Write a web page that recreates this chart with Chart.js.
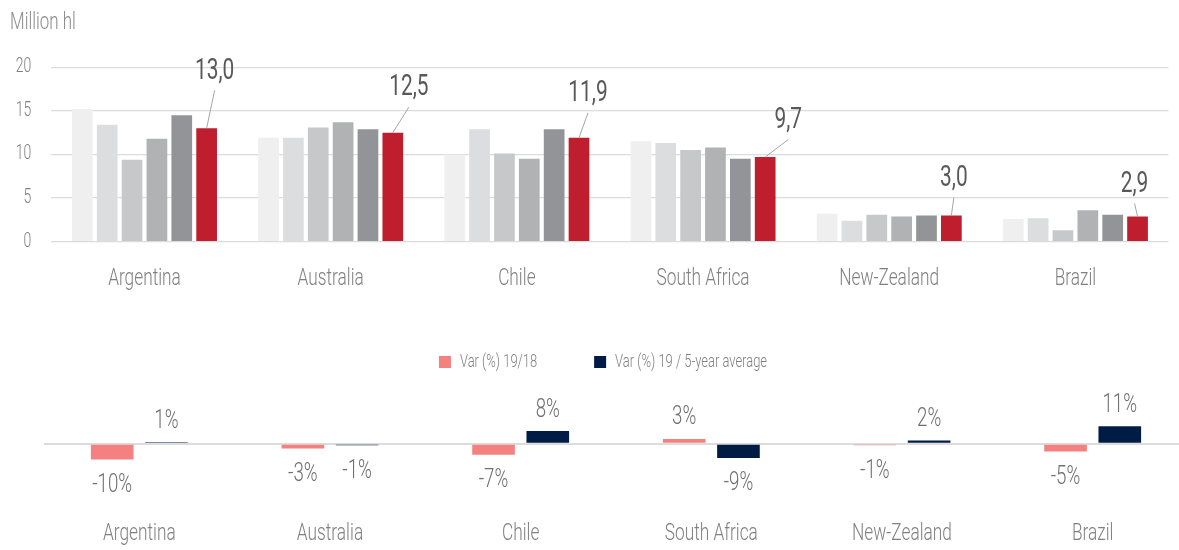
<!DOCTYPE html>
<html><head><meta charset="utf-8">
<script src="https://cdn.jsdelivr.net/npm/chart.js@4"></script>
<style>
html,body{margin:0;padding:0;background:#fff;overflow:hidden;width:1179px;height:550px;position:relative}
#top{position:absolute;left:0;top:0;width:1179px;height:300px}
#bot{position:absolute;left:0;top:300px;width:1188px;height:250px}
</style></head><body>
<div id="top"><canvas id="c1"></canvas></div>
<div id="bot"><canvas id="c2"></canvas></div>
<script>
// ---- data ----
const categories = ['Argentina', 'Australia', 'Chile', 'South Africa', 'New-Zealand', 'Brazil'];
const years = ['2014', '2015', '2016', '2017', '2018', '2019'];
const prod2014 = [15.2, 11.9, 10.0, 11.5, 3.2, 2.6];
const prod2015 = [13.4, 11.9, 12.9, 11.3, 2.4, 2.7];
const prod2016 = [9.4, 13.1, 10.1, 10.5, 3.1, 1.3];
const prod2017 = [11.8, 13.7, 9.5, 10.8, 2.9, 3.6];
const prod2018 = [14.5, 12.9, 12.9, 9.5, 3.0, 3.1];
const prod2019 = [13.0, 12.5, 11.9, 9.7, 3.0, 2.9];
const yTicks = [0, 5, 10, 15, 20];
const varLabels = ['Var (%) 19/18', 'Var (%) 19 / 5-year average'];
const var1918 = [-10, -3, -7, 3, -1, -5];
const varAvg = [1, -1, 8, -9, 2, 11];

// ---- condensed text rendering (real text, horizontally narrowed) ----
const SX = 0.72;
(function () {
  const proto = CanvasRenderingContext2D.prototype;
  const origFill = proto.fillText, origMeasure = proto.measureText;
  proto.fillText = function (t, x, y, maxW) {
    this.save();
    this.translate(x, y);
    this.scale(SX, 1);
    if (maxW !== undefined) origFill.call(this, t, 0, 0, maxW / SX);
    else origFill.call(this, t, 0, 0);
    this.restore();
  };
  proto.measureText = function (t) {
    const m = origMeasure.call(this, t);
    return {
      width: m.width * SX,
      actualBoundingBoxLeft: m.actualBoundingBoxLeft * SX,
      actualBoundingBoxRight: m.actualBoundingBoxRight * SX,
      actualBoundingBoxAscent: m.actualBoundingBoxAscent,
      actualBoundingBoxDescent: m.actualBoundingBoxDescent,
      fontBoundingBoxAscent: m.fontBoundingBoxAscent,
      fontBoundingBoxDescent: m.fontBoundingBoxDescent
    };
  };
})();

// ---- styles ----
const FONT = "Roboto, 'Open Sans', Lato, sans-serif";
Chart.defaults.font.family = FONT;
Chart.defaults.font.weight = '300';
Chart.defaults.color = '#808080';
const barColors = ['#efefef', '#dcdddf', '#c7c8ca', '#b1b2b4', '#939498', '#be1e2d'];
const topSeries = [prod2014, prod2015, prod2016, prod2017, prod2018, prod2019];

const redLabelPlugin = {
  id: 'redLabels',
  afterDatasetsDraw(chart, args, opts) {
    const ctx = chart.ctx;
    const meta = chart.getDatasetMeta(opts.datasetIndex);
    const data = chart.data.datasets[opts.datasetIndex].data;
    ctx.save();
    meta.data.forEach((el, i) => {
      const off = opts.offsets[i];
      const lx = el.x + off[0], ly = el.y + off[1];
      ctx.strokeStyle = '#a6a6a6';
      ctx.lineWidth = 1;
      ctx.beginPath();
      ctx.moveTo(lx, ly + 19);
      ctx.lineTo(el.x, el.y);
      ctx.stroke();
      ctx.fillStyle = '#595959';
      ctx.font = '400 29px ' + FONT;
      ctx.textAlign = 'center';
      ctx.textBaseline = 'middle';
      ctx.fillText(data[i].toFixed(1).replace('.', ','), lx, ly);
    });
    ctx.restore();
  }
};

new Chart(document.getElementById('c1'), {
  type: 'bar',
  data: {
    labels: categories,
    datasets: topSeries.map((d, i) => ({
      label: years[i], data: d, backgroundColor: barColors[i],
      categoryPercentage: 0.801, barPercentage: 0.833
    }))
  },
  options: {
    responsive: true, maintainAspectRatio: false, animation: false,
    layout: {padding: {left: 10, right: 10.5, top: 0, bottom: 0}},
    plugins: {
      legend: {display: false},
      tooltip: {enabled: false},
      title: {display: true, text: 'Million hl', align: 'start', color: '#8c8c8c',
        font: {size: 23.5, weight: '300'}, padding: {top: 9, bottom: 30}},
      redLabels: {datasetIndex: 5, offsets: [[8, -57], [16, -44.5], [9, -44], [23, -36.5], [2.5, -37], [-3, -32]]}
    },
    scales: {
      x: {grid: {display: false, drawTicks: false}, border: {display: false},
        ticks: {color: '#808080', font: {size: 24}, padding: 23, maxRotation: 0},
        afterFit: s => { s.height = 58.3; }},
      y: {min: 0, max: 20,
        afterBuildTicks: s => { s.ticks = yTicks.map(v => ({value: v})); },
        ticks: {color: '#808080', font: {size: 19.5}, padding: 20},
        grid: {color: '#dcdcdc', lineWidth: 1.3, drawTicks: false},
        border: {display: false},
        afterFit: s => { s.width = 41.4; }}
    }
  },
  plugins: [redLabelPlugin]
});

const varLabelPlugin = {
  id: 'varLabels',
  afterDatasetsDraw(chart) {
    const ctx = chart.ctx;
    ctx.save();
    ctx.fillStyle = '#707070';
    ctx.font = '300 26px ' + FONT;
    ctx.textAlign = 'center';
    ctx.textBaseline = 'middle';
    chart.data.datasets.forEach((ds, di) => {
      chart.getDatasetMeta(di).data.forEach((el, i) => {
        const v = ds.data[i];
        const y = v >= 0 ? el.y - 21 : el.y + 26;
        ctx.fillText(Math.round(v) + '%', el.x, y);
      });
    });
    ctx.restore();
  }
};

new Chart(document.getElementById('c2'), {
  type: 'bar',
  data: {
    labels: categories,
    datasets: [
      {label: varLabels[0], data: var1918, backgroundColor: '#f4807f', categoryPercentage: 0.569, barPercentage: 0.786},
      {label: varLabels[1], data: varAvg, backgroundColor: '#001b44', categoryPercentage: 0.569, barPercentage: 0.786}
    ]
  },
  options: {
    responsive: true, maintainAspectRatio: false, animation: false,
    layout: {padding: {left: 18, right: 0, top: -4, bottom: 0}},
    plugins: {
      legend: {display: true, position: 'top',
        labels: {boxWidth: 12, boxHeight: 12, padding: 57, color: '#808080', font: {size: 18}}},
      tooltip: {enabled: false}
    },
    scales: {
      x: {grid: {display: false, drawTicks: false}, border: {display: false},
        ticks: {color: '#808080', font: {size: 24}, padding: 29.6, maxRotation: 0},
        afterFit: s => { s.height = 60; }},
      y: {min: -29.3, max: 39.7,
        afterBuildTicks: s => { s.ticks = [{value: 0}]; },
        ticks: {display: false},
        grid: {color: '#dcdcdc', lineWidth: 2, drawTicks: false},
        border: {display: false},
        afterFit: s => { s.width = 26; }}
    }
  },
  plugins: [varLabelPlugin]
});
</script>
</body></html>
